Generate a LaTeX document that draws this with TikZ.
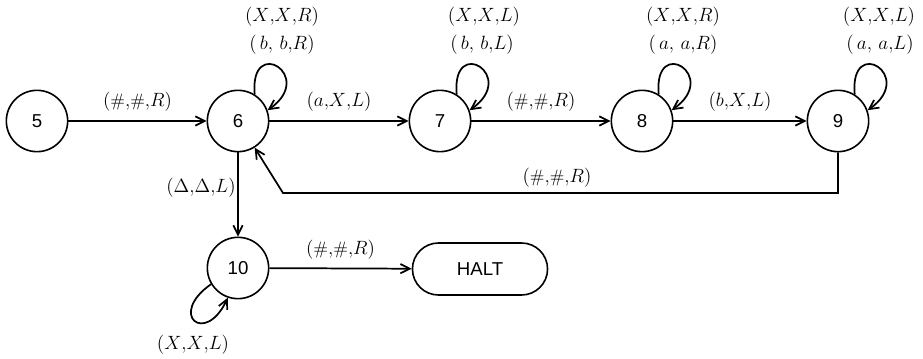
\documentclass[tikz,border=0pt]{standalone}
\usepackage{fontspec}
\usepackage{amsmath}
\usetikzlibrary{positioning,arrows.meta,shapes.misc}
\newfontfamily\statefont{Liberation Sans}
\tikzset{
  state/.style={draw,circle,line width=1.2pt,minimum size=46pt,inner sep=0pt,
    font=\statefont\fontsize{14}{16}\selectfont},
  haltbox/.style={draw,rounded rectangle,line width=1.2pt,minimum width=108pt,
    minimum height=39pt,font=\statefont\fontsize{14}{16}\selectfont},
  trans/.style={line width=1.3pt,-{Straight Barb[length=7pt,width=7pt]}},
  selfloop/.style={trans,out=95,in=35,distance=45pt},
  lbl/.style={font=\fontsize{13.5}{15}\selectfont}
}

\begin{document}
\begin{tikzpicture}[x=0.75pt,y=-0.75pt]
\useasboundingbox (0,0) rectangle (923,359);
% states
\node[state] (s5) at (37,121) {5};
\node[state] (s6) at (238,121) {6};
\node[state] (s7) at (440,121) {7};
\node[state] (s8) at (642,121) {8};
\node[state] (s9) at (838,121) {9};
\node[state] (s10) at (238,268) {10};
\node[haltbox] (halt) at (480,269) {HALT};
% forward moves
\draw[trans] (s5) -- node[lbl,above=3pt] {$(\#{,}\#{,}R)$} (s6);
\draw[trans] (s6) -- node[lbl,above=3pt] {$(a{,}X{,}L)$} (s7);
\draw[trans] (s7) -- node[lbl,above=3pt] {$(\#{,}\#{,}R)$} (s8);
\draw[trans] (s8) -- node[lbl,above=3pt] {$(b{,}X{,}L)$} (s9);
\draw[trans] (s10) -- node[lbl,above=3pt] {$(\#{,}\#{,}R)$} (halt);
\draw[trans] (s6) -- (s10);
\node[lbl] (dlab) at (201,188) {$(\Delta{,}\Delta{,}L)$};
% back to 6
\coordinate (r1) at (838,193);
\coordinate (r2) at (283,193);
\draw[trans] (s9.south) -- (r1) -- (r2) -- (s6.-58);
\node[lbl] (blab) at (557,178) {$(\#{,}\#{,}R)$};
% self loops
\draw[selfloop] (s6.58) to (s6.20);
\draw[selfloop] (s7.58) to (s7.20);
\draw[selfloop] (s8.58) to (s8.20);
\draw[selfloop] (s9.58) to (s9.20);
\draw[trans] (s10.211) to[out=215,in=245,distance=40pt] (s10.251);
\node[lbl] (l6a) at (282,17) {$(X{,}X{,}R)$};
\node[lbl] (l6b) at (282,45) {$(\,b,\,b{,}R)$};
\node[lbl] (l7a) at (484,17) {$(X{,}X{,}L)$};
\node[lbl] (l7b) at (482,45) {$(\,b,\,b{,}L)$};
\node[lbl] (l8a) at (683,17) {$(X{,}X{,}R)$};
\node[lbl] (l8b) at (683,45) {$(\,a,\,a{,}R)$};
\node[lbl] (l9a) at (879,17) {$(X{,}X{,}L)$};
\node[lbl] (l9b) at (880,45) {$(\,a,\,a{,}L)$};
\node[lbl] (l10) at (193,345) {$(X{,}X{,}L)$};
\end{tikzpicture}
\end{document}
